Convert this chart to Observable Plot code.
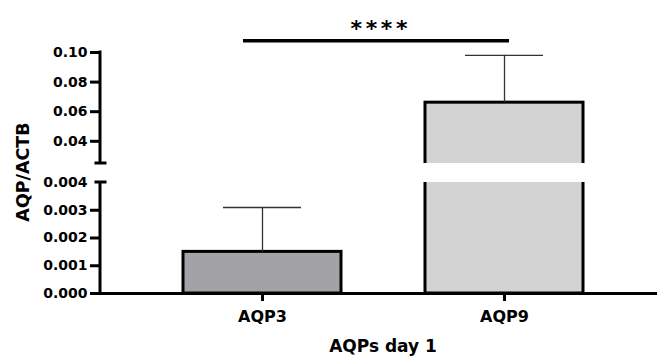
<!DOCTYPE html>
<html><head><meta charset="utf-8">
<script src="https://cdn.jsdelivr.net/npm/d3@7"></script>
<script src="https://cdn.jsdelivr.net/npm/@observablehq/plot@0.6"></script>
<style>body{margin:0;background:#fff;overflow:hidden} #chart svg{display:block}</style>
</head><body><div id="chart"></div>
<script>
// ---- data ----
const categories = ["AQP3", "AQP9"];
const means = [0.0015, 0.0661];
const sds = [0.0016, 0.0320];
const barColors = ["#a3a2a7", "#d3d3d3"];
const yTicksLow = [0, 0.001, 0.002, 0.003, 0.004];
const yTicksHigh = [0.04, 0.06, 0.08, 0.10];
const yBreak = [0.004, 0.025];
const yMax = 0.10;
const significance = "****";
const sigLevel = 0.108;
const yTitle = "AQP/ACTB";
const xTitle = "AQPs day 1";

const data = categories.map((c, i) => ({cat: c, mean: means[i], upper: means[i] + sds[i]}));
const sig = [{from: categories[0], to: categories[1], y: sigLevel, label: significance}];
const fmt = v => v <= yBreak[0] ? d3.format(".3f")(v) : d3.format(".2f")(v);
const FONT = "DejaVu Sans";

function yAxisLine(index, scales, values, dims) {
  const y = scales.y, x0 = dims.marginLeft;
  const g = d3.create("svg:g").attr("stroke", "black").attr("stroke-width", 3).attr("fill", "none");
  g.append("line").attr("x1", x0).attr("x2", x0).attr("y1", y(yMax) - 1.5).attr("y2", y(yBreak[1]));
  g.append("line").attr("x1", x0).attr("x2", x0).attr("y1", y(yBreak[0])).attr("y2", y(0));
  for (const v of yBreak) g.append("line").attr("x1", x0 - 5.5).attr("x2", x0 + 6.5).attr("y1", y(v)).attr("y2", y(v));
  return g.node();
}

const chart = Plot.plot({
  width: 657, height: 356,
  marginTop: 52, marginBottom: 63, marginLeft: 100, marginRight: 0,
  style: {fontFamily: FONT, fontWeight: "bold", fontSize: "14px", background: "white", color: "black"},
  x: {type: "band", domain: categories, range: [141, 625.5], paddingInner: 0.348, paddingOuter: 0.174, label: null},
  y: {type: "linear", domain: [0, yBreak[0], yBreak[1], yMax], range: [293, 182, 163, 52], label: null},
  color: {domain: categories, range: barColors},
  marks: [
    Plot.barY(data, {x: "cat", y: "mean", fill: "cat", stroke: "black", strokeWidth: 3}),
    Plot.ruleX(data, {x: "cat", y1: "mean", y2: "upper", stroke: "#333", strokeWidth: 1.3}),
    Plot.tickY(data, {x: "cat", y: "upper", stroke: "#333", strokeWidth: 1.3, inset: 40}),
    Plot.rect([0], {y1: yBreak[0], y2: yBreak[1], fill: "white"}),
    Plot.ruleY([0], {strokeWidth: 3}),
    yAxisLine,
    Plot.axisY({ticks: [...yTicksLow.filter(v => v !== yBreak[0]), ...yTicksHigh], tickSize: 10, tickPadding: 3, strokeWidth: 3, tickFormat: fmt, fontSize: 14, label: null}),
    Plot.axisY({ticks: [yBreak[0]], tickSize: 0, tickPadding: 13, tickFormat: fmt, fontSize: 14, label: null}),
    Plot.axisX({tickSize: 8, tickPadding: 9, strokeWidth: 3, fontSize: 16, label: null}),
    Plot.ruleY(sig, {x1: "from", x2: "to", y: "y", insetLeft: 60, insetRight: 74, strokeWidth: 3.5}),
    Plot.text(sig, {text: "label", y: "y", frameAnchor: "top", lineAnchor: "bottom", dy: -4.7, fontSize: 22, fontWeight: "bold"}),
    Plot.text([xTitle], {frameAnchor: "bottom", textAnchor: "middle", lineAnchor: "bottom", dx: 4, dy: 58, fontSize: 17, fontWeight: "bold"}),
    Plot.text([yTitle], {frameAnchor: "left", textAnchor: "middle", rotate: -90, lineAnchor: "bottom", dx: -72, dy: -1, fontSize: 17.5, fontWeight: "bold"})
  ]
});
d3.select(chart).selectAll("text").filter(function() { return this.textContent === significance; })
  .attr("letter-spacing", 3.6).attr("dx", 1.8);
document.getElementById("chart").appendChild(chart);
</script>
</body></html>
